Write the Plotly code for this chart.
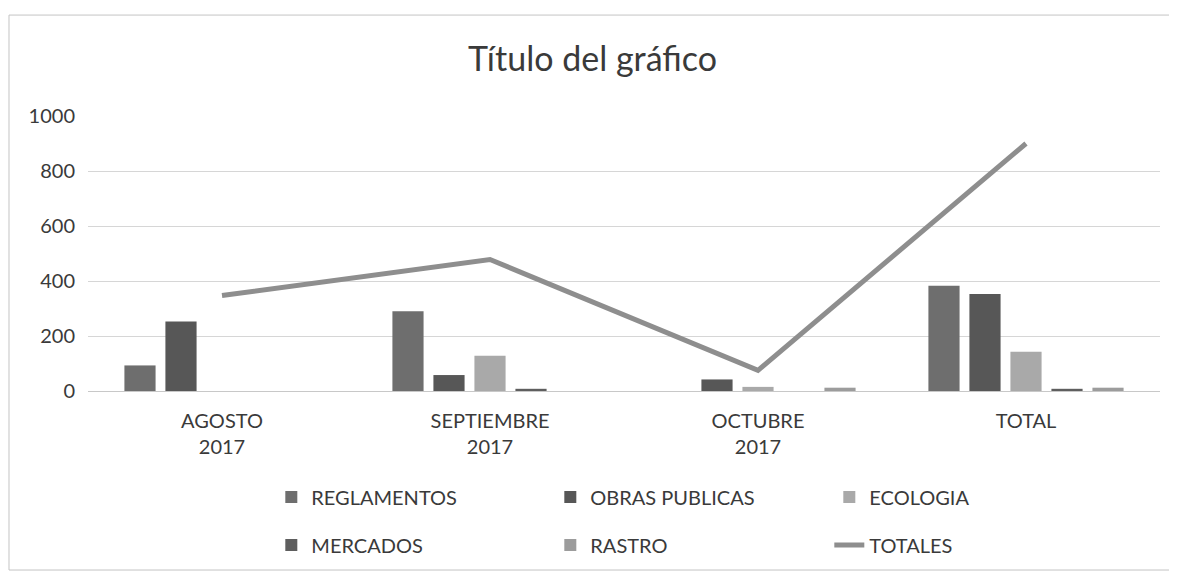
import plotly.graph_objects as go

categories = ["AGOSTO<br>2017", "SEPTIEMBRE<br>2017", "OCTUBRE<br>2017", "TOTAL"]
reglamentos = [93, 290, 0, 383]
obras_publicas = [253, 58, 42, 353]
ecologia = [0, 128, 15, 143]
mercados = [0, 8, 0, 8]
rastro = [0, 0, 12, 12]
totales = [347, 478, 75, 900]

FONT = "Lato"
TXT = "#3a3a3a"
fig = go.Figure()

bar_series = [
    ("REGLAMENTOS", reglamentos, "#6e6e6e", "legend"),
    ("OBRAS PUBLICAS", obras_publicas, "#575757", "legend"),
    ("ECOLOGIA", ecologia, "#a9a9a9", "legend"),
    ("MERCADOS", mercados, "#5e5e5e", "legend2"),
    ("RASTRO", rastro, "#9c9c9c", "legend2"),
]
for name, vals, col, lg in bar_series:
    fig.add_trace(go.Bar(x=categories, y=vals, name=name, marker_color=col,
                         marker_line_width=0, legend=lg))

fig.add_trace(go.Scatter(x=categories, y=totales, name="TOTALES", mode="lines",
                         line=dict(color="#8e8e8e", width=5), legend="legend2"))

legend_common = dict(orientation="h", xanchor="left", yanchor="middle",
                     font=dict(family=FONT, size=20, color=TXT),
                     entrywidth=234, entrywidthmode="pixels",
                     bgcolor="rgba(0,0,0,0)", traceorder="normal")

fig.update_layout(
    width=1169, height=570,
    margin=dict(l=80, r=17, t=108, b=187, autoexpand=False),
    paper_bgcolor="white", plot_bgcolor="white",
    barmode="group", bargap=0.235, bargroupgap=0.24,
    title=dict(text="Título del gráfico", x=0.5, xanchor="center", y=0.91, yanchor="middle",
               font=dict(family=FONT, size=34, color=TXT)),
    font=dict(family=FONT, size=20, color=TXT),
    legend=dict(x=0.171, y=-0.385, **legend_common),
    legend2=dict(x=0.171, y=-0.56, **legend_common),
    xaxis=dict(showgrid=False, showline=True, linecolor="#c8c8c8", linewidth=1,
               ticks="", ticklabelstandoff=12,
               tickfont=dict(family=FONT, size=20, color=TXT)),
    yaxis=dict(range=[0, 1000], tickvals=[0, 200, 400, 600, 800, 1000],
               showgrid=True, gridcolor="#d6d6d6", gridwidth=1, zeroline=False,
               showline=False, ticks="", ticklabelstandoff=12,
               tickfont=dict(family=FONT, size=20, color=TXT)),
    shapes=[dict(type="rect", xref="paper", yref="paper",
                 x0=-0.0737, x1=1.009, y0=-0.651, y1=1.367,
                 line=dict(color="#c4c4c4", width=1), fillcolor="rgba(0,0,0,0)",
                 layer="below")],
)

fig.write_html("out.html")
